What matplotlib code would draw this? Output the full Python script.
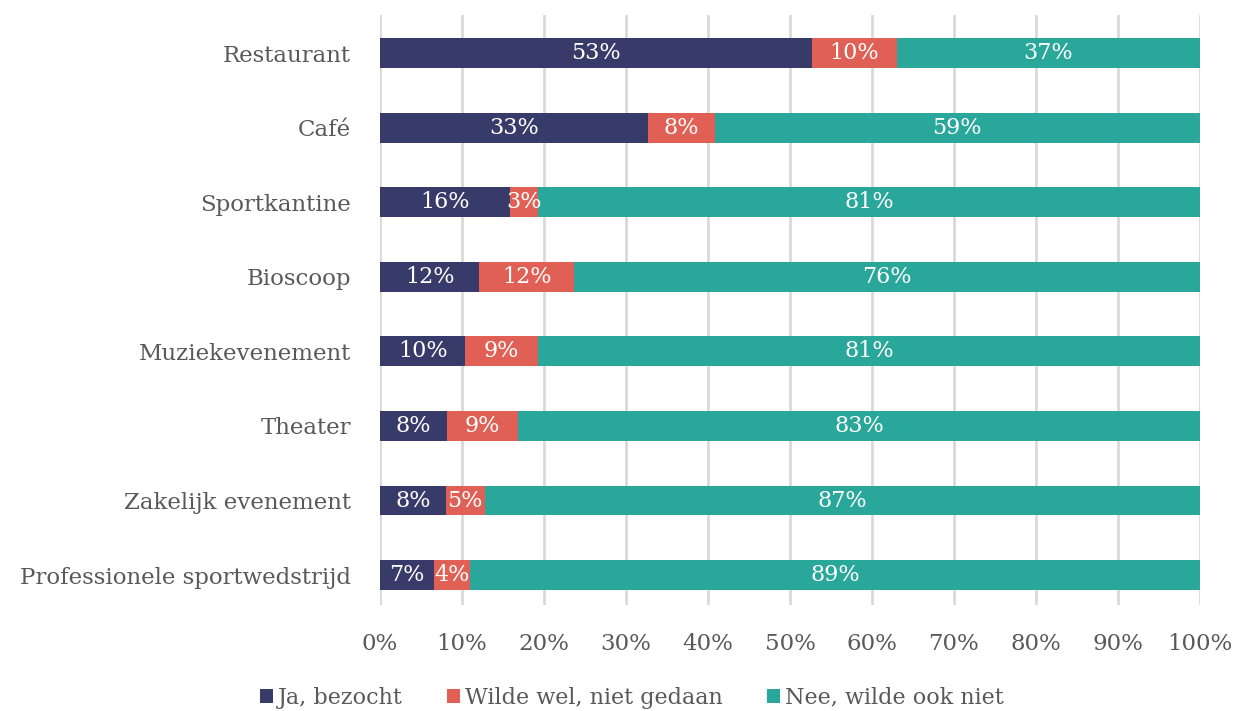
import numpy as np
import matplotlib.pyplot as plt

categories = ["Restaurant", "Café", "Sportkantine", "Bioscoop", "Muziekevenement",
              "Theater", "Zakelijk evenement", "Professionele sportwedstrijd"]
ja = [52.7, 32.7, 15.9, 12.1, 10.4, 8.2, 8.0, 6.6]
wilde = [10.3, 8.1, 3.4, 11.6, 8.9, 8.6, 4.8, 4.4]
nee = [37.0, 59.2, 80.7, 76.3, 80.7, 83.2, 87.2, 89.0]
series_names = ["Ja, bezocht", "Wilde wel, niet gedaan", "Nee, wilde ook niet"]
colors = ["#383b6a", "#e06055", "#2aa79b"]
xticks = np.arange(0, 101, 10)

plt.rcParams['font.family'] = ['DejaVu Serif']
text_color = "#595959"

fig = plt.figure(figsize=(12.35, 7.11), dpi=100)
ax = fig.add_axes([380 / 1235, 1 - 605 / 711, 820 / 1235, 590 / 711])

y = np.arange(len(categories))
left = np.zeros(len(categories))
for vals, col, name in zip([ja, wilde, nee], colors, series_names):
    vals = np.array(vals)
    bars = ax.barh(y, vals, left=left, height=0.4, color=col, label=name, zorder=3)
    for b, v in zip(bars, vals):
        ax.text(b.get_x() + b.get_width() / 2, b.get_y() + b.get_height() / 2,
                f"{v:.0f}%", ha="center", va="center", color="white",
                fontsize=16, zorder=4)
    left += vals

ax.set_xlim(0, 100)
ax.set_ylim(7.4, -0.51)
ax.set_yticks(y)
ax.set_yticklabels(categories, fontsize=16.5, color=text_color)
ax.set_xticks(xticks)
ax.set_xticklabels([f"{t}%" for t in xticks], fontsize=16.5, color=text_color)
ax.tick_params(length=0)
ax.tick_params(axis="x", pad=20)
ax.tick_params(axis="y", pad=21)
ax.grid(axis="x", color="#d9d9d9", linewidth=2, zorder=0)
for s in ax.spines.values():
    s.set_visible(False)

ax.legend(loc="center", bbox_to_anchor=(0.307, -0.157), ncol=3, frameon=False,
          fontsize=16, labelcolor=text_color, handlelength=0.6, handleheight=0.6,
          handletextpad=0.2, columnspacing=2.0)

fig.savefig("out.png", dpi=100)
